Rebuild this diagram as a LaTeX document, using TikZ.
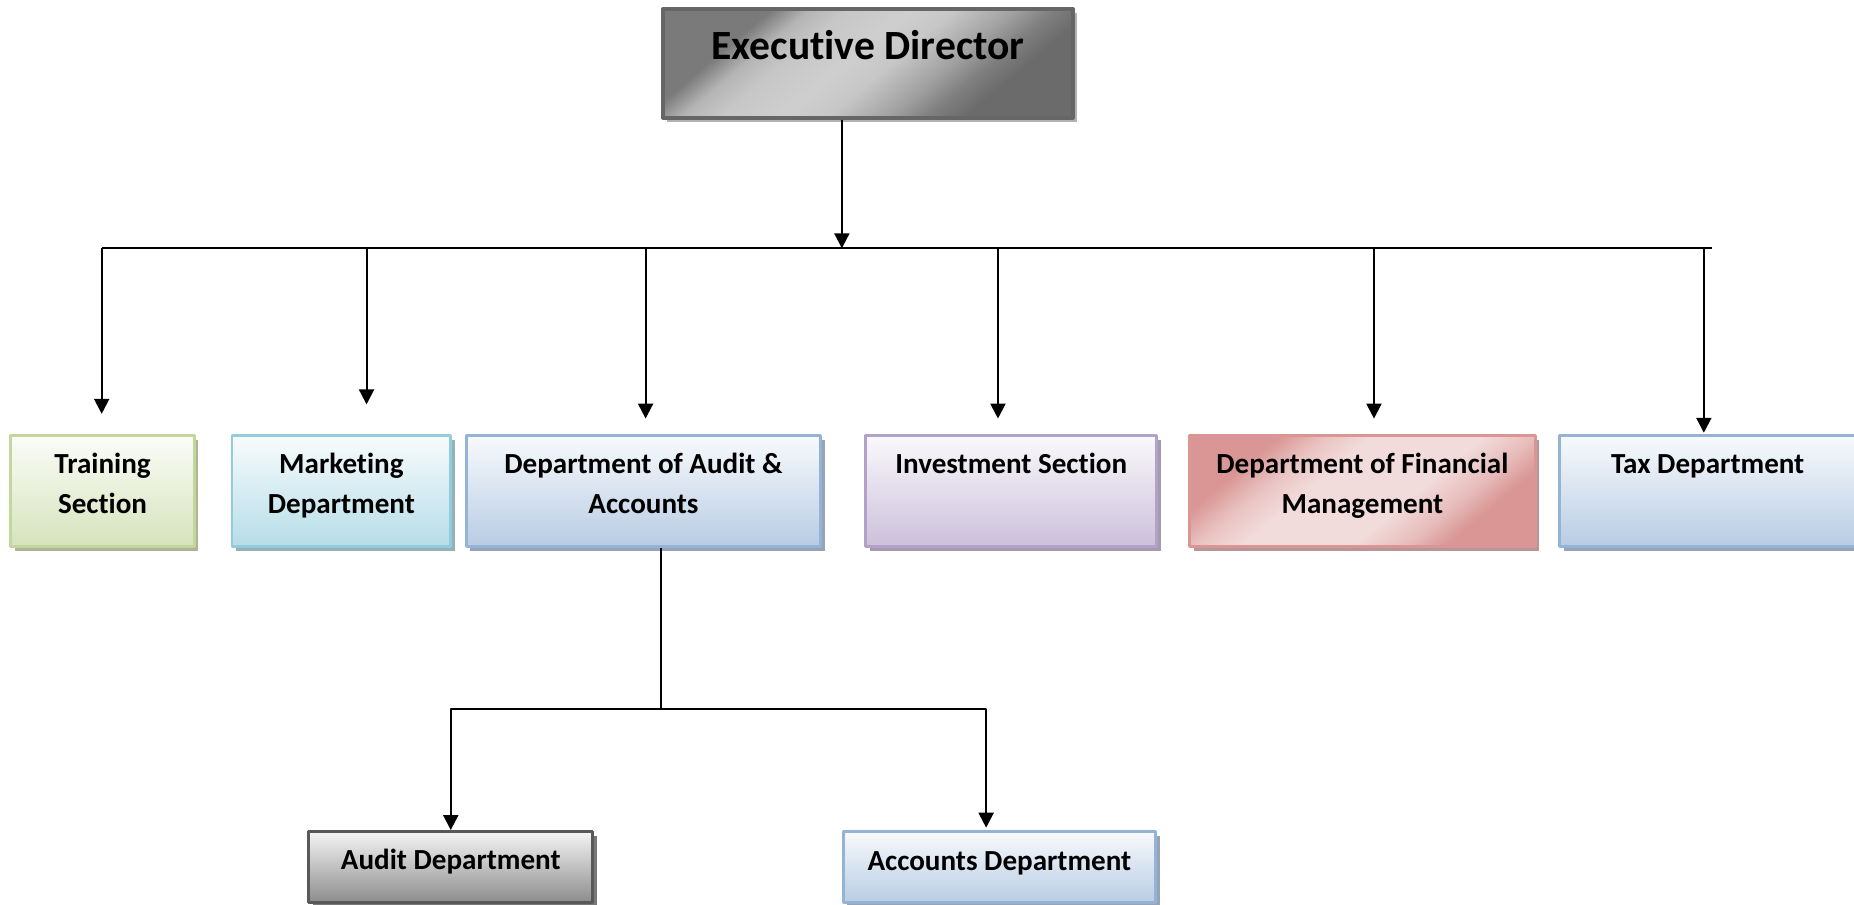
\documentclass[tikz,border=0pt]{standalone}
\usepackage{fontspec}
\setmainfont{Carlito}[Ligatures=NoCommon]
\usetikzlibrary{arrows.meta,shadows}
\definecolor{greenline}{HTML}{C3D69B}\definecolor{greenfill}{HTML}{D6E3BC}
\definecolor{cyanline}{HTML}{93CDDD}\definecolor{cyanfill}{HTML}{B6DDE8}
\definecolor{blueline}{HTML}{95B3D7}\definecolor{bluefill}{HTML}{B8CCE4}
\definecolor{purpline}{HTML}{B3A2C7}\definecolor{purpfill}{HTML}{CCC0DA}
\definecolor{pinkline}{HTML}{D99694}\definecolor{pinkfill}{HTML}{F2DCDB}
\colorlet{grayline}{black!65}\colorlet{grayfill}{black!45}
\pgfdeclareverticalshading{metal}{100bp}{color(0bp)=(black!58); color(29bp)=(black!58); color(34bp)=(black!50); color(39bp)=(black!37);
	color(47bp)=(black!22); color(53bp)=(black!19); color(61bp)=(black!22); color(66bp)=(black!29);
	color(71bp)=(black!52); color(100bp)=(black!52)}
\pgfdeclareverticalshading{blush}{100bp}{color(0bp)=(pinkline); color(28bp)=(pinkline); color(34bp)=(pinkfill!55!pinkline);
	color(42bp)=(pinkfill); color(58bp)=(pinkfill); color(65bp)=(pinkfill!65!pinkline); color(72bp)=(pinkline); color(100bp)=(pinkline)}
\begin{document}
\begin{tikzpicture}[line join=round, line width=0.5pt, >={Triangle[length=3.6pt,width=3.6pt]},
	dept/.style 2 args={draw=#1, line width=0.7pt, top color=#2!10, bottom color=#2, anchor=north west, inner sep=0pt,
		drop shadow={shadow xshift=0.035cm, shadow yshift=-0.035cm, fill=#1!70!black!70, opacity=1}},
	caption/.style={anchor=north, yshift=-0.15cm, inner sep=0pt, align=center, font=\fontsize{7}{9.65}\selectfont\bfseries}]
	\useasboundingbox (0,0) rectangle (15.68,-7.65);
	% head of the chart
	\node[anchor=north west, inner sep=0pt, minimum width=3.47cm, minimum height=0.92cm, draw=black!60, line width=0.9pt,
		shade, shading=metal, shading angle=40,
		drop shadow={shadow xshift=0.035cm, shadow yshift=-0.035cm, fill=black!30, opacity=1}] (ed) at (5.59,-0.06) {};
	\node[caption, yshift=-0.04cm, font=\fontsize{10}{12}\selectfont\bfseries] (ted) at (ed.north) {Executive Director};
	% first row
	\node[dept={greenline}{greenfill}, minimum width=1.55cm, minimum height=0.94cm] (train) at (0.08,-3.67) {};
	\node[dept={cyanline}{cyanfill}, minimum width=1.85cm, minimum height=0.94cm] (market) at (1.95,-3.67) {};
	\node[dept={blueline}{bluefill}, minimum width=3.00cm, minimum height=0.94cm] (audacc) at (3.93,-3.67) {};
	\node[dept={purpline}{purpfill}, minimum width=2.46cm, minimum height=0.94cm] (invest) at (7.31,-3.67) {};
	\node[dept={pinkline}{pinkfill}, shading=blush, shading angle=40,
		minimum width=2.92cm, minimum height=0.94cm] (finance) at (10.05,-3.67) {};
	\node[dept={blueline}{bluefill}, minimum width=2.50cm, minimum height=0.94cm] (tax) at (13.18,-3.67) {};
	\node[caption] (ttrain) at (train.north) {Training\\Section};
	\node[caption] (tmarket) at (market.north) {Marketing\\Department};
	\node[caption] (taudacc) at (audacc.north) {Department of Audit \&\\Accounts};
	\node[caption] (tinvest) at (invest.north) {Investment Section};
	\node[caption] (tfinance) at (finance.north) {Department of Financial\\Management};
	\node[caption, yshift=-0.02cm] (ttax) at (tax.north) {Tax Department};
	% second row
	\node[dept={grayline}{grayfill}, top color=black!4, minimum width=2.40cm, minimum height=0.60cm] (audit) at (2.60,-7.02) {};
	\node[dept={blueline}{bluefill}, minimum width=2.64cm, minimum height=0.60cm] (accts) at (7.12,-7.02) {};
	\node[caption] (taudit) at (audit.north) {Audit Department};
	\node[caption, yshift=-0.02cm] (taccts) at (accts.north) {Accounts Department};
	% connectors
	\coordinate (bus) at (7.12,-2.10);
	\coordinate (split) at (5.59,-6.00);
	\coordinate (pacc) at (8.34,-7.00);
	\foreach \n/\x/\y in {train/0.86/3.50, market/3.10/3.42, audacc/5.46/3.54, invest/8.44/3.54, finance/11.62/3.54, tax/14.41/3.66}
		\coordinate (p\n) at (\x,-\y);
	\draw[->] (ed.south -| bus) -- (bus);
	\draw (ptrain |- bus) -- (14.48,-2.10);
	\foreach \n in {train,market,audacc,invest,finance,tax}
		\draw[->] (p\n |- bus) -- (p\n);
	\draw (audacc.south -| split) -- (split);
	\draw[->] (split) -| (audit.north);
	\draw[->] (split) -| (pacc);
\end{tikzpicture}
\end{document}
